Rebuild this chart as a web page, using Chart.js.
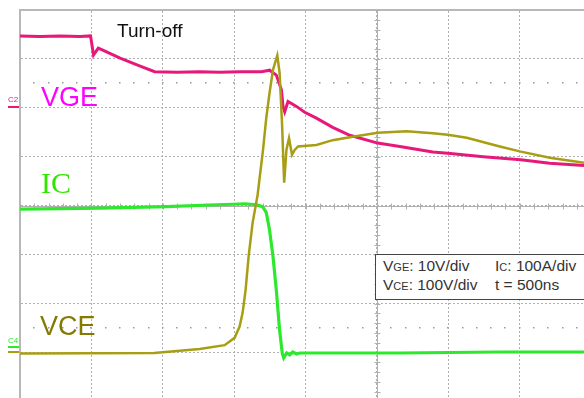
<!DOCTYPE html>
<html>
<head>
<meta charset="utf-8">
<script src="https://cdn.jsdelivr.net/npm/chart.js@4.4.1/dist/chart.umd.min.js"></script>
<style>
  html, body { margin: 0; padding: 0; background: #fff; overflow: hidden; }
  #wrap { position: relative; width: 584px; height: 398px; overflow: hidden; }
  #scope { position: absolute; left: 0; top: 0; }
  .lbl { position: absolute; line-height: 1; white-space: nowrap; font-family: "Liberation Sans", Arial, sans-serif; }
  .lbl small { font-size: 11px; }
  .box { position: absolute; left: 375px; top: 254px; width: 230px; height: 44px; border: 1px solid #444; background: #fff; }
  .bar { position: absolute; height: 2px; }
</style>
</head>
<body>
<div id="wrap">
  <canvas id="scope" width="584" height="398"></canvas>

  <div class="lbl" style="left:117px; top:21px; font-size:19px; color:#111;">Turn-off</div>
  <div class="lbl" style="left:41px; top:84px; font-size:27px; color:#ff00ff;">VGE</div>
  <div class="lbl" style="left:41px; top:168px; font-size:30px; color:#33e600; font-family:'Liberation Serif', 'Times New Roman', serif;">IC</div>
  <div class="lbl" style="left:40px; top:313px; font-size:27px; color:#857a00;">VCE</div>

  <div class="lbl" style="left:8px; top:96px; font-size:8px; color:#e8187a;">C2</div>
  <div class="bar" style="left:8px; top:106px; width:11px; background:#e8187a;"></div>
  <div class="lbl" style="left:8px; top:337px; font-size:8px; color:#2ee82e;">C4</div>
  <div class="bar" style="left:8px; top:346px; width:11px; background:#2ee82e;"></div>
  <div class="bar" style="left:8px; top:351px; width:11px; background:#a89e14;"></div>

  <div class="box"></div>
  <div class="lbl" style="left:383px; top:258px; font-size:15.5px; color:#333;">V<small>GE</small>: 10V/div</div>
  <div class="lbl" style="left:495px; top:258px; font-size:15.5px; color:#333;">I<small>C</small>: 100A/div</div>
  <div class="lbl" style="left:383px; top:277px; font-size:15.5px; color:#333;">V<small>CE</small>: 100V/div</div>
  <div class="lbl" style="left:495px; top:277px; font-size:15.5px; color:#333;">t = 500ns</div>
</div>

<script>
// time base: 500 ns/div, screen shows 0 .. 7.9 div
const T_PER_DIV = 500;
const T_MAX = 3950;
const X_GRID = [0, 500, 1000, 1500, 2000, 2500, 3000, 3500];
const CENTER_T = 2500;

// vertical graticule in divisions (top edge = +4)
const Y_MIN_DIV = -3.93;
const Y_MAX_DIV = 4;
const Y_GRID = [-3, -2, -1, 0, 1, 2, 3, 4];
const MARK_DIV = [2.5, -2.5];

// channel scaling: units per div and ground position in div
const VGE_PER_DIV = 10, VGE_ZERO = 2;
const IC_PER_DIV = 100, IC_ZERO = -3;
const VCE_PER_DIV = 100, VCE_ZERO = -3;

// VGE (V)
const VGE_T = [0, 140, 280, 420, 494, 515, 548, 580, 697, 837, 943, 1100, 1258, 1400, 1538, 1692, 1748, 1795, 1831,
  1842, 1854, 1877, 1936, 1994, 2076, 2190, 2310, 2505, 2660, 2891, 2996, 3245, 3507, 3710, 3950];
const VGE_V = [14.7, 14.6, 14.7, 14.6, 14.7, 10.8, 12.2, 11.8, 10.2, 8.6, 7.4, 7.3, 7.4, 7.3, 7.4, 7.4, 7.7, 6.7, 3.7,
  0.3, -0.8, 1.3, 0.3, -0.9, -2.1, -4.0, -5.6, -7.2, -7.9, -9.0, -9.3, -10.0, -10.6, -11.3, -11.8];

// IC (A)
const IC_T = [0, 557, 1027, 1377, 1489, 1573, 1657, 1699, 1725, 1748, 1772, 1795, 1818, 1837, 1847, 1868, 1889,
  1910, 1938, 1959, 2100, 2660, 3000, 3360, 3950];
const IC_A = [293, 295, 298, 302, 303, 304, 302, 298, 286, 250, 196, 128, 46, -2, -11, -1, -5,
  1, -3, -1, -1, -1, 0, 1, 1];

// VCE (V)
const VCE_T = [0, 940, 1258, 1433, 1503, 1538, 1559, 1580, 1601, 1629, 1664, 1702, 1725, 1748, 1772, 1802, 1818,
  1835, 1850, 1866, 1884, 1905, 1924, 1947, 2076, 2190, 2330, 2505, 2708, 2891, 2996, 3129, 3360, 3500, 3710, 3950];
const VCE_V = [-2, -1, 7, 15, 30, 53, 81, 128, 196, 265, 322, 414, 480, 531, 578, 607, 572,
  469, 347, 414, 438, 404, 414, 421, 424, 434, 441, 449, 452, 448, 445, 439, 421, 411, 398, 388];

const GRID_COLOR = '#b0b0b0';

function pts(xs, ys) {
  return xs.map((x, i) => ({x: x, y: ys[i]}));
}

function channelAxis(perDiv, zero) {
  return {display: false, min: (Y_MIN_DIV - zero) * perDiv, max: (Y_MAX_DIV - zero) * perDiv};
}

// centre cross with sub-division ticks + dotted marker lines
const graticule = {
  id: 'graticule',
  beforeDatasetsDraw(chart) {
    const {ctx, chartArea: a, scales: {x, y}} = chart;
    const cx = Math.round(x.getPixelForValue(CENTER_T)) + 0.5;
    const cy = Math.round(y.getPixelForValue(0)) + 0.5;
    ctx.save();
    ctx.strokeStyle = GRID_COLOR;
    ctx.lineWidth = 1;
    ctx.beginPath();
    ctx.moveTo(cx, a.top); ctx.lineTo(cx, a.bottom);
    ctx.moveTo(a.left, cy); ctx.lineTo(a.right, cy);
    for (let i = Math.ceil(Y_MIN_DIV * 5); i <= Y_MAX_DIV * 5; i++) {
      const py = Math.round(y.getPixelForValue(i / 5)) + 0.5;
      ctx.moveTo(cx - 3, py); ctx.lineTo(cx + 3, py);
    }
    for (let t = 0; t <= T_MAX; t += T_PER_DIV / 5) {
      const px = Math.round(x.getPixelForValue(t)) + 0.5;
      ctx.moveTo(px, cy - 3); ctx.lineTo(px, cy + 3);
    }
    ctx.stroke();
    ctx.fillStyle = '#9a9a9a';
    MARK_DIV.forEach(d => {
      const py = Math.round(y.getPixelForValue(d));
      for (let t = T_PER_DIV / 5; t <= T_MAX; t += T_PER_DIV / 5) {
        const px = Math.round(x.getPixelForValue(t));
        ctx.fillRect(px - 1, py - 1, 1.5, 1.5);
      }
    });
    ctx.restore();
  }
};

new Chart(document.getElementById('scope'), {
  type: 'line',
  data: {
    datasets: [
      {label: 'VCE', data: pts(VCE_T, VCE_V), yAxisID: 'yVce', borderColor: '#a89e14', borderWidth: 2.5},
      {label: 'VGE', data: pts(VGE_T, VGE_V), yAxisID: 'yVge', borderColor: '#e8187a', borderWidth: 3},
      {label: 'IC', data: pts(IC_T, IC_A), yAxisID: 'yIc', borderColor: '#2ee82e', borderWidth: 3.2}
    ]
  },
  options: {
    responsive: false,
    animation: false,
    layout: {padding: {left: 20, top: 10, right: 0, bottom: 0}},
    elements: {point: {radius: 0}, line: {tension: 0, fill: false}},
    plugins: {legend: {display: false}, tooltip: {enabled: false}},
    scales: {
      x: {
        type: 'linear', position: 'top', min: 0, max: T_MAX,
        afterBuildTicks: ax => { ax.ticks = X_GRID.map(v => ({value: v})); },
        ticks: {display: false},
        grid: {color: GRID_COLOR, lineWidth: 1, drawTicks: false},
        border: {display: true, color: '#b8b8b8', width: 2, dash: [2, 2]}
      },
      y: {
        type: 'linear', position: 'left', min: Y_MIN_DIV, max: Y_MAX_DIV,
        afterBuildTicks: ax => { ax.ticks = Y_GRID.map(v => ({value: v})); },
        ticks: {display: false},
        grid: {color: GRID_COLOR, lineWidth: 1, drawTicks: false},
        border: {display: true, color: '#b8b8b8', width: 2, dash: [2, 2]}
      },
      yVge: channelAxis(VGE_PER_DIV, VGE_ZERO),
      yIc: channelAxis(IC_PER_DIV, IC_ZERO),
      yVce: channelAxis(VCE_PER_DIV, VCE_ZERO)
    }
  },
  plugins: [graticule]
});
</script>
</body>
</html>
